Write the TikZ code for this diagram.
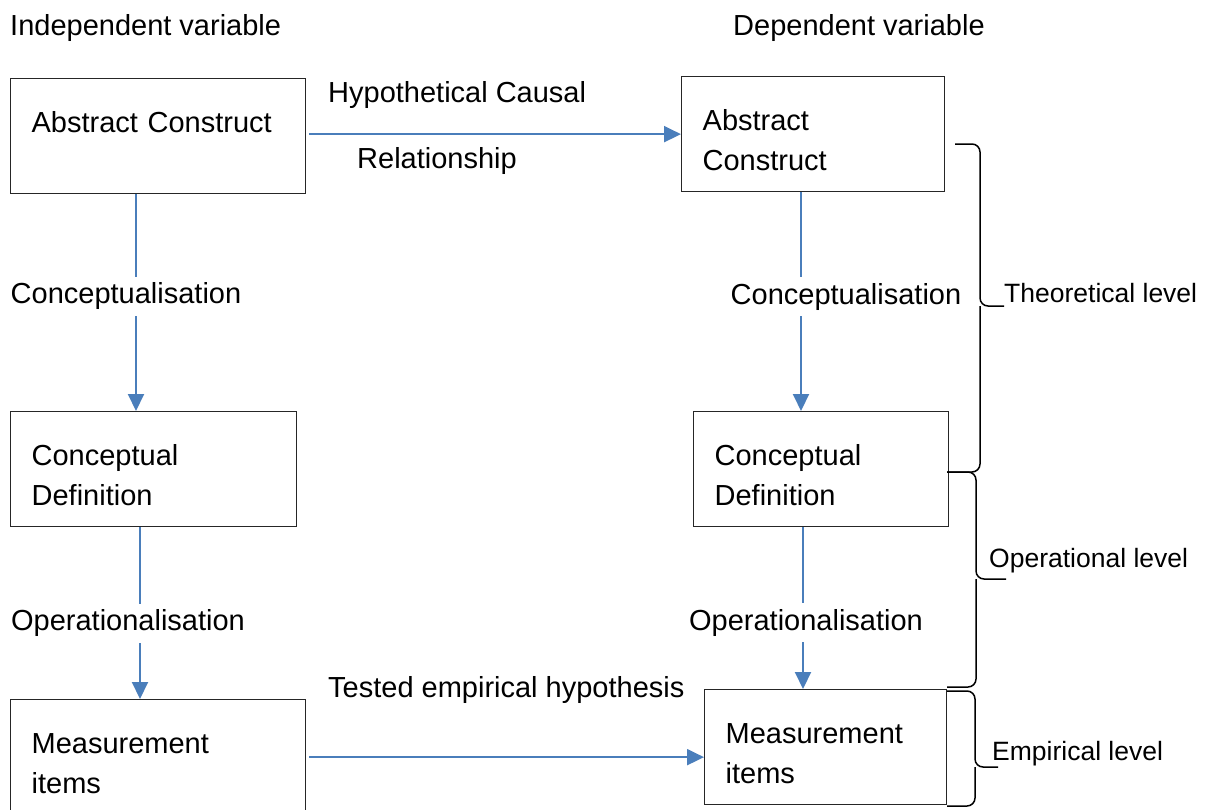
\documentclass[tikz,border=0pt]{standalone}
\usepackage{fontspec}
\setmainfont{Liberation Sans}
\usetikzlibrary{arrows.meta}
\definecolor{linkblue}{HTML}{4A7EBB}

\begin{document}
\begin{tikzpicture}[
        x=1pt, y=-1pt,
        font=\fontsize{29}{40}\selectfont,
        block/.style = {rectangle, draw=black!85, line width=1.3pt, anchor=north west, align=left, inner xsep=21pt, inner ysep=0pt, text height=54pt, text depth=61pt},
        link/.style = {draw=linkblue, line width=2pt, -{Triangle[length=17pt,width=16pt]}}, % blue arrows
        caption/.style = {anchor=base west, inner sep=0pt},
        gap/.style = {fill=white, inner xsep=0pt, inner ysep=6pt}, % label breaking a line
        level/.style = {anchor=base west, inner sep=0pt, font=\fontsize{26.5}{30}\selectfont},
        levelbrace/.style = {draw, line width=1.5pt, rounded corners=8pt}
    ]
        \useasboundingbox (0,0) rectangle (1206,809);

        % Headings
        \node [caption] (indep) at (10,35) {Independent variable};
        \node [caption] (dep) at (733,35) {Dependent variable};

        % Boxes
        \node [block, text width=253pt] (absInd) at (10,78) {Abstract Construct};
        \node [block, text width=221pt] (absDep) at (681,76) {Abstract\\Construct};
        \node [block, text width=244pt] (concInd) at (10,411) {Conceptual\\Definition};
        \node [block, text width=213pt] (concDep) at (693,411) {Conceptual\\Definition};
        \node [block, text width=253pt] (measInd) at (10,699) {Measurement\\items};
        \node [block, text width=200pt] (measDep) at (704,689) {Measurement\\items};

        % Labels of the horizontal arrows
        \node [caption] (hypoTop) at (328,102) {Hypothetical Causal};
        \node [caption] (hypoBottom) at (357,168) {Relationship};
        \node [caption] (tested) at (328,697) {Tested empirical hypothesis};

        % Lines
        \draw [link, shorten <=3pt] ([yshift=2pt]absInd.east) -- (absDep.west);
        \draw [link, shorten <=3pt] (measInd.east) -- (measInd.east -| measDep.west);
        \draw [link] ([xshift=126pt]absInd.south west) -- node[gap, pos=0.47, xshift=-10pt] (concepInd) {Conceptualisation} ([xshift=126pt]concInd.north west);
        \draw [link] ([xshift=120pt]absDep.south west) -- node[gap, pos=0.477, xshift=45pt] (concepDep) {Conceptualisation} ([xshift=108pt]concDep.north west);
        \draw [link] ([xshift=130pt]concInd.south west) -- node[gap, pos=0.558, xshift=-12pt] (operInd) {Operationalisation} ([xshift=130pt]measInd.north west);
        \draw [link] ([xshift=110pt]concDep.south west) -- node[gap, pos=0.59, xshift=3pt] (operDep) {Operationalisation} ([xshift=99pt]measDep.north west);

        % Braces and levels
        \draw [levelbrace] (955,144) -| (980,306) -- (1004,306);
        \draw [levelbrace] (947,472) -| (980,306);
        \node [level] (theo) at (1004,302) {Theoretical level};

        \draw [levelbrace] (947,472) -| (976,579) -- (1006,579);
        \draw [levelbrace] (947,687) -| (976,579);
        \node [level] (oper) at (989,567) {Operational level};

        \draw [levelbrace] (947,691) -| (975,767) -- (998,767);
        \draw [levelbrace] (947,806) -| (975,767);
        \node [level] (emp) at (992,760) {Empirical level};
    \end{tikzpicture}
\end{document}
